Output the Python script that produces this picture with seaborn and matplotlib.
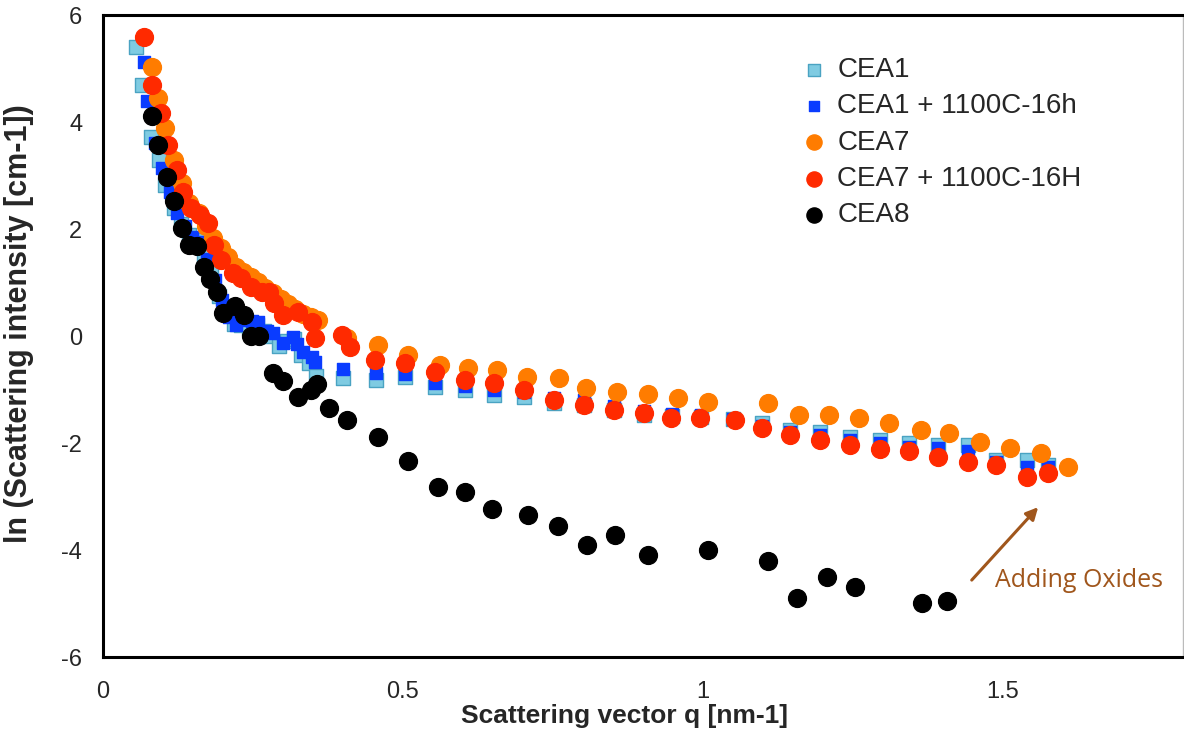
import matplotlib
matplotlib.use("Agg")
import matplotlib.pyplot as plt
import seaborn as sns

sns.set_style("white")
plt.rcParams["font.family"] = ["Liberation Sans", "DejaVu Sans"]
plt.rcParams["axes.unicode_minus"] = False

# data
cea1_q = [0.055, 0.065, 0.08, 0.093, 0.104, 0.118, 0.13, 0.143, 0.156, 0.168, 0.18,
          0.193, 0.205, 0.218, 0.23, 0.243, 0.256, 0.268, 0.28, 0.293, 0.306, 0.318,
          0.33, 0.343, 0.355, 0.40, 0.455, 0.503, 0.553, 0.603, 0.652, 0.702, 0.752,
          0.801, 0.851, 0.901, 0.948, 0.996, 1.05, 1.098, 1.146, 1.195, 1.245, 1.295,
          1.344, 1.392, 1.442, 1.488, 1.541, 1.576]
cea1_i = [5.40, 4.69, 3.72, 3.29, 2.82, 2.39, 2.10, 1.89, 1.79, 1.51, 1.20,
          0.75, 0.45, 0.22, 0.20, 0.15, 0.20, 0.10, 0.00, -0.18, -0.10, -0.05,
          -0.35, -0.50, -0.75, -0.78, -0.82, -0.77, -0.95, -1.01, -1.10, -1.14, -1.25,
          -1.29, -1.38, -1.48, -1.50, -1.52, -1.55, -1.63, -1.76, -1.79, -1.89, -1.94,
          -2.00, -2.04, -2.04, -2.32, -2.32, -2.41]

cea1h_q = [0.068, 0.074, 0.086, 0.098, 0.111, 0.123, 0.136, 0.148, 0.161, 0.173, 0.186,
           0.198, 0.21, 0.222, 0.238, 0.248, 0.258, 0.273, 0.283, 0.30, 0.316, 0.323,
           0.334, 0.348, 0.354, 0.40, 0.455, 0.503, 0.553, 0.603, 0.652, 0.702, 0.752,
           0.801, 0.851, 0.901, 0.948, 0.996, 1.05, 1.098, 1.146, 1.195, 1.245, 1.295,
           1.344, 1.392, 1.442, 1.488, 1.541, 1.576]
cea1h_i = [5.12, 4.40, 3.60, 3.15, 2.70, 2.30, 2.05, 1.85, 1.76, 1.45, 1.05,
           0.67, 0.35, 0.21, 0.30, 0.28, 0.26, 0.10, 0.06, -0.13, -0.02, -0.15,
           -0.30, -0.40, -0.49, -0.62, -0.69, -0.70, -0.87, -0.93, -1.00, -1.05, -1.15,
           -1.20, -1.30, -1.40, -1.45, -1.48, -1.55, -1.68, -1.80, -1.84, -1.95, -2.00,
           -2.08, -2.10, -2.15, -2.35, -2.45, -2.45]

cea7_q = [0.081, 0.091, 0.104, 0.119, 0.131, 0.144, 0.16, 0.172, 0.184, 0.197, 0.209,
          0.222, 0.234, 0.246, 0.258, 0.27, 0.283, 0.296, 0.308, 0.32, 0.333, 0.346,
          0.359, 0.407, 0.459, 0.508, 0.561, 0.608, 0.657, 0.707, 0.76, 0.805, 0.856,
          0.909, 0.959, 1.008, 1.108, 1.161, 1.21, 1.26, 1.31, 1.364, 1.411, 1.462,
          1.512, 1.563, 1.608]
cea7_i = [5.03, 4.45, 3.89, 3.29, 2.86, 2.49, 2.30, 2.05, 1.83, 1.65, 1.48,
          1.30, 1.20, 1.10, 1.02, 0.90, 0.80, 0.70, 0.60, 0.50, 0.42, 0.36,
          0.30, -0.04, -0.17, -0.36, -0.54, -0.60, -0.64, -0.77, -0.79, -0.97, -1.05,
          -1.08, -1.16, -1.23, -1.25, -1.48, -1.48, -1.53, -1.63, -1.76, -1.81, -1.98,
          -2.09, -2.18, -2.45]

cea7h_q = [0.068, 0.081, 0.096, 0.108, 0.123, 0.134, 0.146, 0.161, 0.175, 0.185, 0.197,
           0.217, 0.230, 0.247, 0.265, 0.276, 0.285, 0.30, 0.325, 0.349, 0.354, 0.399,
           0.412, 0.454, 0.503, 0.553, 0.603, 0.652, 0.702, 0.752, 0.801, 0.851, 0.901,
           0.947, 0.995, 1.053, 1.099, 1.146, 1.195, 1.245, 1.295, 1.344, 1.392, 1.442,
           1.488, 1.541, 1.576]
cea7h_i = [5.60, 4.69, 4.17, 3.57, 3.10, 2.69, 2.39, 2.26, 2.11, 1.70, 1.42,
           1.18, 1.08, 0.92, 0.82, 0.82, 0.62, 0.39, 0.45, 0.26, -0.04, 0.02,
           -0.21, -0.45, -0.50, -0.67, -0.82, -0.88, -1.00, -1.20, -1.29, -1.38, -1.44,
           -1.53, -1.53, -1.57, -1.72, -1.85, -1.94, -2.04, -2.11, -2.15, -2.26, -2.35,
           -2.41, -2.63, -2.56]

cea8_q = [0.081, 0.091, 0.106, 0.118, 0.131, 0.144, 0.157, 0.169, 0.179, 0.190, 0.200,
          0.220, 0.235, 0.247, 0.26, 0.283, 0.30, 0.325, 0.346, 0.357, 0.376, 0.406,
          0.459, 0.508, 0.558, 0.604, 0.649, 0.709, 0.758, 0.806, 0.853, 0.909, 1.008,
          1.108, 1.157, 1.207, 1.253, 1.366, 1.407]
cea8_i = [4.11, 3.57, 2.97, 2.52, 2.02, 1.70, 1.68, 1.29, 1.07, 0.82, 0.43,
          0.56, 0.39, 0.00, 0.00, -0.69, -0.84, -1.14, -1.01, -0.90, -1.35, -1.57,
          -1.89, -2.34, -2.82, -2.92, -3.23, -3.35, -3.55, -3.91, -3.72, -4.09, -4.00,
          -4.21, -4.90, -4.50, -4.69, -4.99, -4.95]

series = [
    ("CEA1", cea1_q, cea1_i, "s", "#7fcbe2", "#4aa3c2", 95),
    ("CEA1 + 1100C-16h", cea1h_q, cea1h_i, "s", "#0a3cff", "#0a3cff", 85),
    ("CEA7", cea7_q, cea7_i, "o", "#ff7c00", "#ff7c00", 165),
    ("CEA7 + 1100C-16H", cea7h_q, cea7h_i, "o", "#ff2a00", "#ff2a00", 165),
    ("CEA8", cea8_q, cea8_i, "o", "#000000", "#000000", 165),
]

fig = plt.figure(figsize=(11.84, 7.37), dpi=100)
ax = fig.add_axes([0.087, 0.1085, 0.912, 0.871])

for name, q, i, mk, fc, ec, s in series:
    sns.scatterplot(x=q, y=i, ax=ax, marker=mk, color=fc, edgecolor=ec,
                    linewidth=1.0, s=s, label=name, zorder=3)

ax.set_xlim(0, 1.8)
ax.set_ylim(-6, 6)
ax.set_xticks([0, 0.5, 1, 1.5])
ax.set_xticklabels(["0", "0.5", "1", "1.5"])
ax.set_yticks([-6, -4, -2, 0, 2, 4, 6])
ax.tick_params(direction="in", length=6, width=2, labelsize=17, color="black")
ax.tick_params(axis="y", pad=15)
ax.tick_params(axis="x", pad=17)

for side in ["left", "bottom", "top"]:
    ax.spines[side].set_linewidth(2.2)
    ax.spines[side].set_color("black")
ax.spines["right"].set_linewidth(1.0)
ax.spines["right"].set_color("#bbbbbb")

ax.set_xlabel("Scattering vector q [nm-1]", fontsize=19, fontweight="bold")
ax.set_ylabel("ln (Scattering intensity [cm-1])", fontsize=22, fontweight="bold")
ax.xaxis.set_label_coords(0.483, -0.0725)
ax.yaxis.set_label_coords(-0.064, 0.52)

leg = ax.legend(loc="upper left", bbox_to_anchor=(0.635, 0.952), frameon=False,
                fontsize=20, handlelength=1.0, handletextpad=0.35, labelspacing=0.37,
                markerscale=0.85, borderaxespad=0)

ax.annotate("", xy=(1.562, -3.16), xytext=(1.445, -4.6),
            arrowprops=dict(arrowstyle="-|>", color="#a0561c", lw=2.2, mutation_scale=18))
ax.text(1.487, -4.57, "Adding Oxides", color="#a0561c", fontsize=18,
        family=["Open Sans", "DejaVu Sans"], va="center", ha="left")

fig.savefig("out.png", dpi=100)
